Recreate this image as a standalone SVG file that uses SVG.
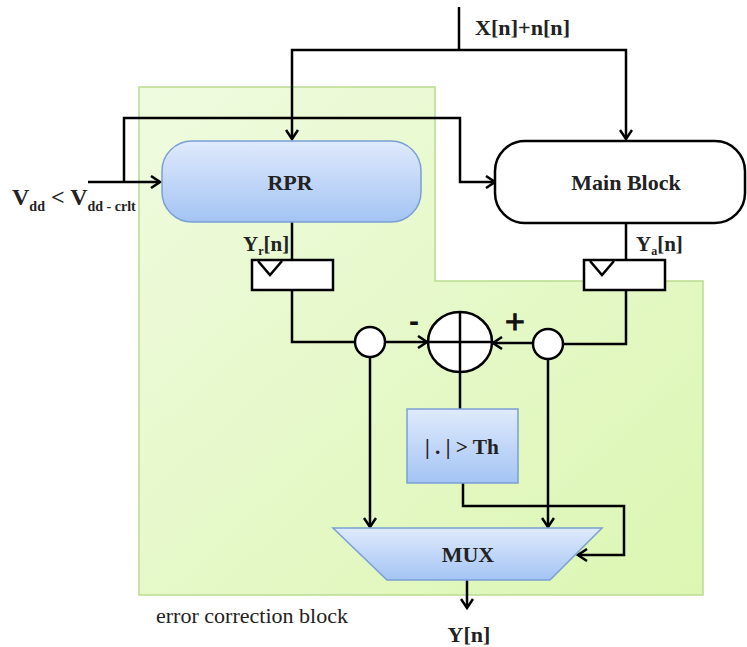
<svg xmlns="http://www.w3.org/2000/svg" width="747" height="647" viewBox="0 0 747 647">
  <defs>
    <linearGradient id="blueGrad" x1="0" y1="0" x2="0" y2="1">
      <stop offset="0" stop-color="#dfeafc"/>
      <stop offset="1" stop-color="#a4c4f4"/>
    </linearGradient>
    <linearGradient id="greenGrad" x1="0" y1="0" x2="1" y2="1">
      <stop offset="0" stop-color="#effbdf"/>
      <stop offset="1" stop-color="#dcf6b2"/>
    </linearGradient>
    <marker id="arrow" markerUnits="userSpaceOnUse" markerWidth="14" markerHeight="14" viewBox="-12 -7 14 14" refX="0" refY="0" orient="auto">
      <path d="M-9,-6 L0,0 L-9,6" fill="none" stroke="#000" stroke-width="2.5"/>
    </marker>
  </defs>
  <style>
    .wire { fill: none; stroke: #000; stroke-width: 2.5; }
    .arr { marker-end: url(#arrow); }
    .blue { fill: url(#blueGrad); stroke: #7b9fd4; stroke-width: 1.5; }
    .white { fill: #fff; stroke: #000; stroke-width: 2.5; }
    .lbl { font-family: "Liberation Serif", "Times New Roman", serif; font-weight: bold; fill: #222; }
    .reg { font-family: "Liberation Serif", "Times New Roman", serif; fill: #222; }
  </style>

  <g id="error-correction-region">
    <polygon points="139,87 435,87 435,281 703,281 703,595 139,595" fill="url(#greenGrad)" stroke="#b9dc8f" stroke-width="1.5"/>
    <text class="reg" x="156" y="623" font-size="22" textLength="192" lengthAdjust="spacingAndGlyphs">error correction block</text>
  </g>

  <g id="connectors">
    <polyline class="wire" points="459,7 459,50"/>
    <polyline class="wire arr" points="459,50 292,50 292,139"/>
    <polyline class="wire arr" points="459,50 626,50 626,139"/>
    <polyline class="wire arr" points="88,182 160,182"/>
    <polyline class="wire arr" points="124,182 124,118 460,118 460,182 495,182"/>
    <polyline class="wire" points="292,222 292,260"/>
    <polyline class="wire" points="626,223 626,260"/>
    <polyline class="wire" points="292,290 292,342 355,342"/>
    <polyline class="wire" points="626,290 626,344 563,344"/>
    <polyline class="wire arr" points="385,342 427,342"/>
    <polyline class="wire arr" points="533,343 493,343"/>
    <polyline class="wire" points="460,372 460,409"/>
    <polyline class="wire arr" points="370,357 370,527"/>
    <polyline class="wire arr" points="548,359 548,527"/>
    <polyline class="wire arr" points="463,483 463,506 624,506 624,555 578,555"/>
    <polyline class="wire arr" points="467,580 467,608"/>
  </g>

  <g id="input-label">
    <text class="lbl" x="475" y="35" font-size="22" textLength="95" lengthAdjust="spacingAndGlyphs">X[n]+n[n]</text>
  </g>

  <g id="vdd-label">
    <text class="lbl" x="12" y="205" font-size="24">V<tspan font-size="14" dy="6">dd</tspan><tspan dy="-6" font-size="24"> &lt; V</tspan><tspan font-size="14" dy="6">dd - crlt</tspan></text>
  </g>

  <g id="rpr">
    <rect class="blue" x="162" y="141" width="259" height="81" rx="30" ry="30"/>
    <text class="lbl" x="290" y="190" font-size="22" text-anchor="middle">RPR</text>
  </g>

  <g id="main-block">
    <rect class="white" x="495" y="141" width="250" height="82" rx="30" ry="30"/>
    <text class="lbl" x="626" y="190" font-size="22" text-anchor="middle">Main Block</text>
  </g>

  <g id="reg-r">
    <rect class="white" x="252" y="260" width="81" height="30"/>
    <polyline class="wire" points="258,261 270,275 282,261"/>
    <text class="lbl" x="243" y="251" font-size="21">Y<tspan font-size="12" dy="4">r</tspan><tspan dy="-4" font-size="21">[n]</tspan></text>
  </g>

  <g id="reg-a">
    <rect class="white" x="584" y="260" width="81" height="30"/>
    <polyline class="wire" points="590,261 602,275 614,261"/>
    <text class="lbl" x="636" y="251" font-size="21">Y<tspan font-size="12" dy="4">a</tspan><tspan dy="-4" font-size="21">[n]</tspan></text>
  </g>

  <g id="tap-left">
    <ellipse class="white" cx="370" cy="342" rx="15" ry="15"/>
  </g>

  <g id="tap-right">
    <ellipse class="white" cx="548" cy="344" rx="15" ry="15"/>
  </g>

  <g id="adder">
    <ellipse class="white" cx="460" cy="342" rx="32" ry="30"/>
    <line class="wire" x1="428" y1="342" x2="492" y2="342"/>
    <line class="wire" x1="460" y1="312" x2="460" y2="372"/>
    <text x="414" y="331" font-family="Liberation Sans, Arial, sans-serif" font-size="30" font-weight="bold" text-anchor="middle" fill="#111">-</text>
    <text x="515" y="333" font-family="Liberation Sans, Arial, sans-serif" font-size="34" text-anchor="middle" fill="#111" stroke="#111" stroke-width="1">+</text>
  </g>

  <g id="threshold">
    <rect class="blue" x="407" y="409" width="111" height="74"/>
    <text class="lbl" x="462" y="454" font-size="21" text-anchor="middle" textLength="74" lengthAdjust="spacingAndGlyphs">| . | &gt; Th</text>
  </g>

  <g id="mux">
    <polygon class="blue" points="333,528 602,528 550,580 387,580"/>
    <text class="lbl" x="468" y="562" font-size="22" text-anchor="middle">MUX</text>
  </g>

  <g id="output-label">
    <text class="lbl" x="469" y="642" font-size="22" text-anchor="middle">Y[n]</text>
  </g>
</svg>
